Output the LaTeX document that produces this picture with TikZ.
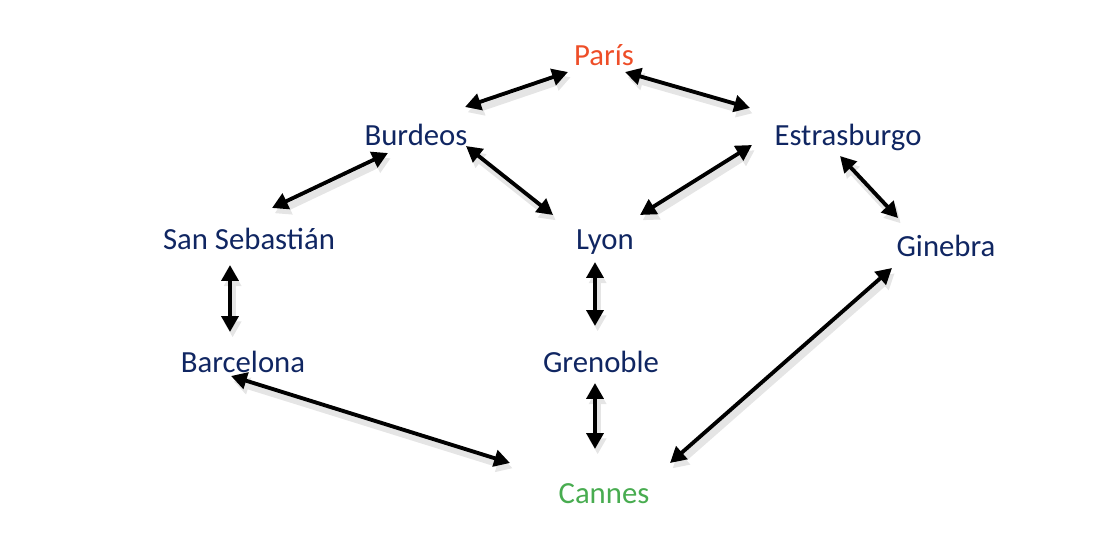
\documentclass[tikz,border=0pt]{standalone}
\usepackage{fontspec}
\usetikzlibrary{arrows.meta}
\setmainfont{Carlito}

\definecolor{navy}{RGB}{16,38,98}
\definecolor{parisred}{RGB}{238,78,40}
\definecolor{cannesgreen}{RGB}{72,172,80}

\begin{document}
\begin{tikzpicture}[x=0.02cm, y=-0.02cm,
		city/.style={anchor=base, inner sep=0pt, text=navy, font=\fontsize{17.5}{21}\selectfont},
		link/.style={line width=2.2pt, {Triangle[length=9pt,width=9.5pt]}-{Triangle[length=9pt,width=9.5pt]},
			preaction={draw=black!10, line width=4pt, transform canvas={shift={(1.5pt,-3pt)}}}}]
		\useasboundingbox (0,0) rectangle (1108,550);

		\draw (604,66) node[city, text=parisred] (paris) {París};
		\draw (416,146) node[city] (burdeos) {Burdeos};
		\draw (848,146) node[city] (estras) {Estrasburgo};
		\draw (249,250) node[city] (sanseb) {San Sebastián};
		\draw (605,250) node[city] (lyon) {Lyon};
		\draw (946,257) node[city] (ginebra) {Ginebra};
		\draw (243,372) node[city] (barna) {Barcelona};
		\draw (601,372) node[city] (grenoble) {Grenoble};
		\draw (604,503) node[city, text=cannesgreen] (cannes) {Cannes};

		\draw [link] ([shift={(49,-39)}]burdeos.base) -- ([shift={(-36,6)}]paris.base);
		\draw [link] ([shift={(21,6)}]paris.base) -- ([shift={(-98,-38)}]estras.base);
		\draw [link] ([shift={(-28,7)}]burdeos.base) -- ([shift={(23,-42)}]sanseb.base);
		\draw [link] ([shift={(50,0)}]burdeos.base) -- ([shift={(-52,-35)}]lyon.base);
		\draw [link] ([shift={(-96,-1)}]estras.base) -- ([shift={(35,-35)}]lyon.base);
		\draw [link] ([shift={(-8,10)}]estras.base) -- ([shift={(-48,-39)}]ginebra.base);
		\draw [link] ([shift={(-19,15)}]sanseb.base) -- ([shift={(-13,-40)}]barna.base);
		\draw [link] ([shift={(-10,12)}]lyon.base) -- ([shift={(-6,-46)}]grenoble.base);
		\draw [link] ([shift={(-6,11)}]grenoble.base) -- ([shift={(-9,-54)}]cannes.base);
		\draw [link] ([shift={(-12,4)}]barna.base) -- ([shift={(-94,-40)}]cannes.base);
		\draw [link] ([shift={(-54,11)}]ginebra.base) -- ([shift={(66,-40)}]cannes.base);
	\end{tikzpicture}
\end{document}
